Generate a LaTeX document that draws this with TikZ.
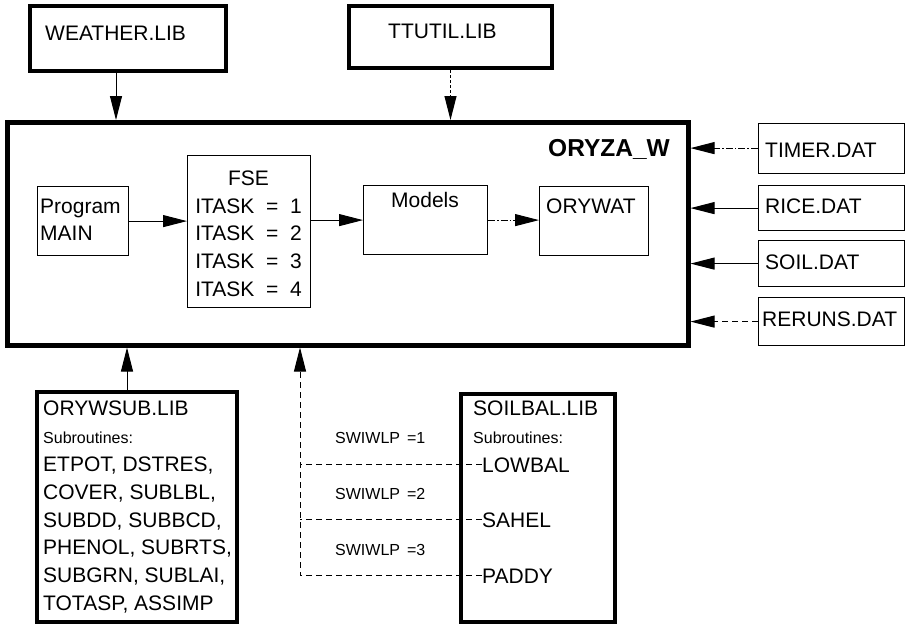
\documentclass[tikz,border=0pt]{standalone}
\usepackage{fontspec}
\setmainfont{Liberation Sans}
\usetikzlibrary{arrows.meta,positioning}
\newcommand{\bigtxt}{\fontsize{21}{27.8}\selectfont}
\newcommand{\smalltxt}{\fontsize{16}{20}\selectfont}

\begin{document}
\begin{tikzpicture}[
  x=1pt, y=-1pt,
  libbox/.style={draw, line width=4pt, inner sep=0pt, anchor=north west},
  mainbox/.style={draw, line width=4.5pt, inner sep=0pt, anchor=north west},
  filebox/.style={draw, line width=1.2pt, inner sep=0pt, anchor=north west},
  txt/.style={font=\bigtxt, inner sep=0pt, anchor=base west},
  stxt/.style={font=\smalltxt, inner sep=0pt, anchor=base west},
  arr/.style={-{Triangle[length=24pt,width=12pt]}, line width=1pt},
  darr/.style={arr, dash pattern=on 6pt off 4pt},
  dotarr/.style={arr, dash pattern=on 7pt off 2pt on 1.5pt off 2pt},
  swline/.style={line width=1pt, dash pattern=on 6pt off 4pt}
]
\useasboundingbox (0,0) rectangle (905,625);
% libraries on top
\node[libbox, minimum width=196, minimum height=65] (weather) at (28,4) {};
\node[txt] (weathertxt) at (45,40) {WEATHER.LIB};
\node[libbox, minimum width=203, minimum height=62] (ttutil) at (347,4) {};
\node[txt] (ttutiltxt) at (388,38) {TTUTIL.LIB};
% main program
\node[mainbox, minimum width=681, minimum height=223] (oryza) at (5,120) {};
\node[font=\fontsize{24.5}{28}\selectfont\bfseries, inner sep=0pt, anchor=base east] (oryzatxt) at (670,156) {ORYZA\_W};
\node[filebox, minimum width=91, minimum height=69] (main) at (37,186) {};
\node[font=\bigtxt, inner sep=0pt, align=left, anchor=north west] (maintxt) at (40,198.5) {Program\\MAIN};
\node[filebox, minimum width=123, minimum height=152] (fse) at (187,155) {};
\node[font=\bigtxt, inner sep=0pt, align=center, anchor=north] (fsetxt) at (248.5,170.5)
  {FSE\\ITASK~~=~~1\\ITASK~~=~~2\\ITASK~~=~~3\\ITASK~~=~~4};
\node[filebox, minimum width=124, minimum height=69] (models) at (363,185) {};
\node[font=\bigtxt, inner sep=0pt, anchor=base] (modelstxt) at (425,207) {Models};
\node[filebox, minimum width=109, minimum height=69] (orywat) at (539,186) {};
\node[txt] (orywattxt) at (546,213) {ORYWAT};
% data files
\node[filebox, minimum width=146, minimum height=50] (timer) at (757.5,122.5) {};
\node[txt] (timertxt) at (765,157) {TIMER.DAT};
\node[filebox, minimum width=146, minimum height=45] (rice) at (757.5,185) {};
\node[txt] (ricetxt) at (765,213) {RICE.DAT};
\node[filebox, minimum width=146, minimum height=46] (soil) at (757.5,240) {};
\node[txt] (soiltxt) at (765,269) {SOIL.DAT};
\node[filebox, minimum width=146, minimum height=48] (reruns) at (757.5,297) {};
\node[txt] (rerunstxt) at (762,326) {RERUNS.DAT};
% libraries below
\node[libbox, minimum width=200, minimum height=230] (orywsub) at (35,390) {};
\node[font=\bigtxt, inner sep=0pt, align=left, anchor=north west] (orywsubtxt) at (43,401)
  {ORYWSUB.LIB\\{\smalltxt Subroutines:}\\ETPOT, DSTRES,\\COVER, SUBLBL,\\SUBDD, SUBBCD,\\PHENOL, SUBRTS,\\SUBGRN, SUBLAI,\\TOTASP, ASSIMP};
\node[libbox, minimum width=154, minimum height=228] (soilbal) at (459,392) {};
\node[txt] (soilbaltxt) at (473,415) {SOILBAL.LIB};
\node[stxt] (soilbalsub) at (473,443) {Subroutines:};
\node[txt] (lowbal) at (482,472) {LOWBAL};
\node[txt] (sahel) at (482,527) {SAHEL};
\node[txt] (paddy) at (482,583) {PADDY};
\node[stxt] (sw1) at (335,443) {SWIWLP\hspace{7pt}=1};
\node[stxt] (sw2) at (335,499) {SWIWLP\hspace{7pt}=2};
\node[stxt] (sw3) at (335,555) {SWIWLP\hspace{7pt}=3};
% connectors
\coordinate (wout) at ([xshift=-12pt]weather.south);
\draw[arr] (wout) -- (wout |- oryza.north);
\draw[darr, dash pattern=on 3pt off 2pt] (ttutil.south) -- (ttutil.south |- oryza.north);
\draw[dotarr] (timer.west) -- (timer.west -| oryza.east);
\draw[arr] (rice.west) -- (rice.west -| oryza.east);
\draw[arr] (soil.west) -- (soil.west -| oryza.east);
\draw[darr] (reruns.west) -- (reruns.west -| oryza.east);
\draw[arr] (main.east) -- (main.east -| fse.west);
\draw[arr] (fse.east |- models.west) -- (models.west);
\draw[dotarr] (models.east) -- (models.east -| orywat.west);
\coordinate (subout) at ([xshift=-10pt]orywsub.north);
\draw[arr] (subout) -- (subout |- oryza.south);
\coordinate (swin) at (300,0);
\draw[darr] (paddy.west) -| (swin |- oryza.south);
\draw[swline] (lowbal.west) -- (lowbal.west -| swin);
\draw[swline] (sahel.west) -- (sahel.west -| swin);
\end{tikzpicture}
\end{document}
